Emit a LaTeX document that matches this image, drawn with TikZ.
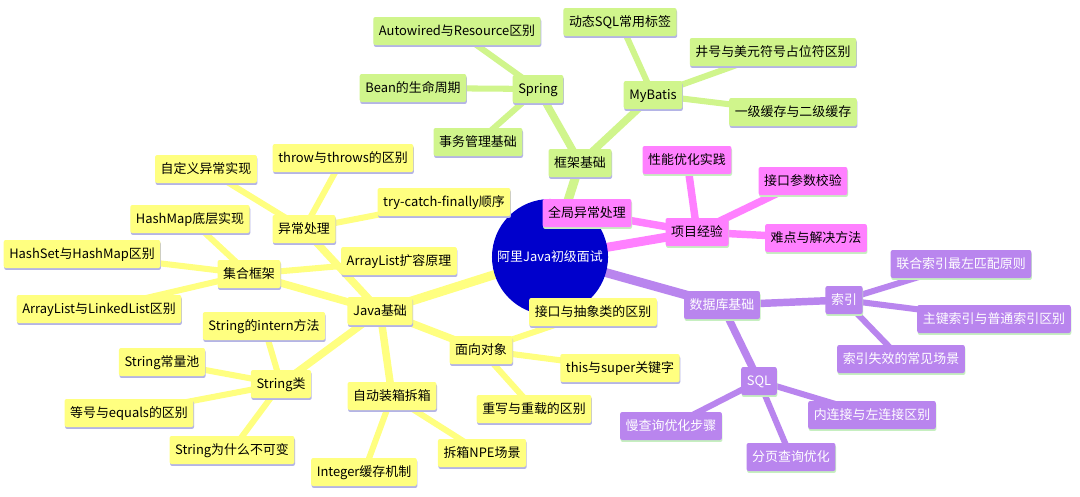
\documentclass[tikz,border=0pt]{standalone}
\usepackage{fontspec}
\setmainfont{Noto Sans CJK SC}
\usetikzlibrary{shadows,backgrounds}

\definecolor{rootblue}{HTML}{0000CC}
\definecolor{javayellow}{HTML}{FFFF80}
\definecolor{framegreen}{HTML}{D0F58C}
\definecolor{projpink}{HTML}{FF80FF}
\definecolor{dbpurple}{HTML}{B985EE}
\definecolor{lavshadow}{HTML}{B4B4E6}
\definecolor{mintshadow}{HTML}{C6EFC0}

\tikzset{
  topic/.style={rectangle, rounded corners=1.5pt, inner xsep=4pt, inner ysep=0pt,
    minimum height=0.7cm, text height=0.85em, text depth=0.15em,
    font=\fontsize{9.2}{11}\selectfont},
  lavdrop/.style={drop shadow={shadow xshift=0.4pt, shadow yshift=-1.4pt, fill=lavshadow, opacity=1}},
  mintdrop/.style={drop shadow={shadow xshift=0.4pt, shadow yshift=-1.4pt, fill=mintshadow, opacity=1}},
  javatopic/.style={topic, fill=javayellow, lavdrop},
  frametopic/.style={topic, fill=framegreen, lavdrop},
  projtopic/.style={topic, fill=projpink, mintdrop},
  dbtopic/.style={topic, fill=dbpurple, text=white, mintdrop},
  trunk/.style={line width=6.4pt},
  limb/.style={line width=5.3pt},
  twig/.style={line width=4.3pt},
}

\begin{document}
\begin{tikzpicture}[x=0.025cm, y=-0.025cm]
  \useasboundingbox (0,0) rectangle (1080,496);

  \node[circle, fill=rootblue, text=white, minimum size=2.9cm, inner sep=0pt,
    font=\fontsize{9.2}{11}\selectfont] (root) at (550,257) {阿里Java初级面试};

  % 框架基础
  \node[frametopic] (frame) at (580,163) {框架基础};
  \node[frametopic] (spring) at (538,89) {Spring};
  \node[frametopic] (mybatis) at (653,95) {MyBatis};
  \node[frametopic] (autowired) at (457,31) {Autowired与Resource区别};
  \node[frametopic] (bean) at (413,88) {Bean的生命周期};
  \node[frametopic] (tx) at (478,142) {事务管理基础};
  \node[frametopic] (dynsql) at (620,22) {动态SQL常用标签};
  \node[frametopic] (placeholder) at (773,52) {井号与美元符号占位符区别};
  \node[frametopic] (cache) at (793,112) {一级缓存与二级缓存};

  % 项目经验
  \node[projtopic] (project) at (697,232) {项目经验};
  \node[projtopic] (global) at (587,213) {全局异常处理};
  \node[projtopic] (perf) at (687,160) {性能优化实践};
  \node[projtopic] (param) at (803,181) {接口参数校验};
  \node[projtopic] (hard) at (816,238) {难点与解决方法};

  % 数据库基础
  \node[dbtopic] (db) at (722,305) {数据库基础};
  \node[dbtopic] (index) at (844,300) {索引};
  \node[dbtopic] (joint) at (961,264) {联合索引最左匹配原则};
  \node[dbtopic] (pkey) at (994,319) {主键索引与普通索引区别};
  \node[dbtopic] (invalid) at (901,359) {索引失效的常见场景};
  \node[dbtopic] (sql) at (759,381) {SQL};
  \node[dbtopic] (join) at (872,415) {内连接与左连接区别};
  \node[dbtopic] (page) at (791,457) {分页查询优化};
  \node[dbtopic] (slow) at (671,426) {慢查询优化步骤};

  % Java基础
  \node[javatopic] (java) at (380,311) {Java基础};
  \node[javatopic] (coll) at (249,274) {集合框架};
  \node[javatopic] (exc) at (304,229) {异常处理};
  \node[javatopic] (oop) at (481,350) {面向对象};
  \node[javatopic] (str) at (281,384) {String类};
  \node[javatopic] (box) at (392,396) {自动装箱拆箱};
  \node[javatopic] (arrgrow) at (399,261) {ArrayList扩容原理};
  \node[javatopic] (trycatch) at (444,202) {try-catch-finally顺序};
  \node[javatopic] (throws) at (343,158) {throw与throws的区别};
  \node[javatopic] (custexc) at (206,169) {自定义异常实现};
  \node[javatopic] (hashmap) at (190,219) {HashMap底层实现};
  \node[javatopic] (hashset) at (82,254) {HashSet与HashMap区别};
  \node[javatopic] (arrlink) at (99,309) {ArrayList与LinkedList区别};
  \node[javatopic] (intern) at (264,326) {String的intern方法};
  \node[javatopic] (strpool) at (162,362) {String常量池};
  \node[javatopic] (equals) at (129,413) {等号与equals的区别};
  \node[javatopic] (immut) at (232,450) {String为什么不可变};
  \node[javatopic] (intcache) at (364,472) {Integer缓存机制};
  \node[javatopic] (npe) at (482,453) {拆箱NPE场景};
  \node[javatopic] (iface) at (593,312) {接口与抽象类的区别};
  \node[javatopic] (thissuper) at (620,368) {this与super关键字};
  \node[javatopic] (override) at (534,409) {重写与重载的区别};

  \begin{scope}[on background layer]
    \fill[white] (0,0) rectangle (1080,496);
    \foreach \n/\c in {java/javayellow, frame/framegreen, project/projpink, db/dbpurple}
      \draw[trunk, \c] (root.center) -- (\n.center);
    \foreach \a/\b in {java/coll, java/exc, java/str, java/box, java/oop}
      \draw[limb, javayellow] (\a.center) -- (\b.center);
    \foreach \a/\b in {coll/hashmap, coll/hashset, coll/arrlink, coll/arrgrow,
        exc/custexc, exc/throws, exc/trycatch,
        str/intern, str/strpool, str/equals, str/immut,
        box/intcache, box/npe, oop/iface, oop/thissuper, oop/override}
      \draw[twig, javayellow] (\a.center) -- (\b.center);
    \foreach \a/\b in {frame/spring, frame/mybatis}
      \draw[limb, framegreen] (\a.center) -- (\b.center);
    \foreach \a/\b in {spring/autowired, spring/bean, spring/tx,
        mybatis/dynsql, mybatis/placeholder, mybatis/cache}
      \draw[twig, framegreen] (\a.center) -- (\b.center);
    \foreach \b in {global, perf, param, hard}
      \draw[limb, projpink] (project.center) -- (\b.center);
    \foreach \a/\b in {db/index, db/sql}
      \draw[limb, dbpurple] (\a.center) -- (\b.center);
    \foreach \a/\b in {index/joint, index/pkey, index/invalid,
        sql/join, sql/page, sql/slow}
      \draw[twig, dbpurple] (\a.center) -- (\b.center);
  \end{scope}
\end{tikzpicture}
\end{document}
